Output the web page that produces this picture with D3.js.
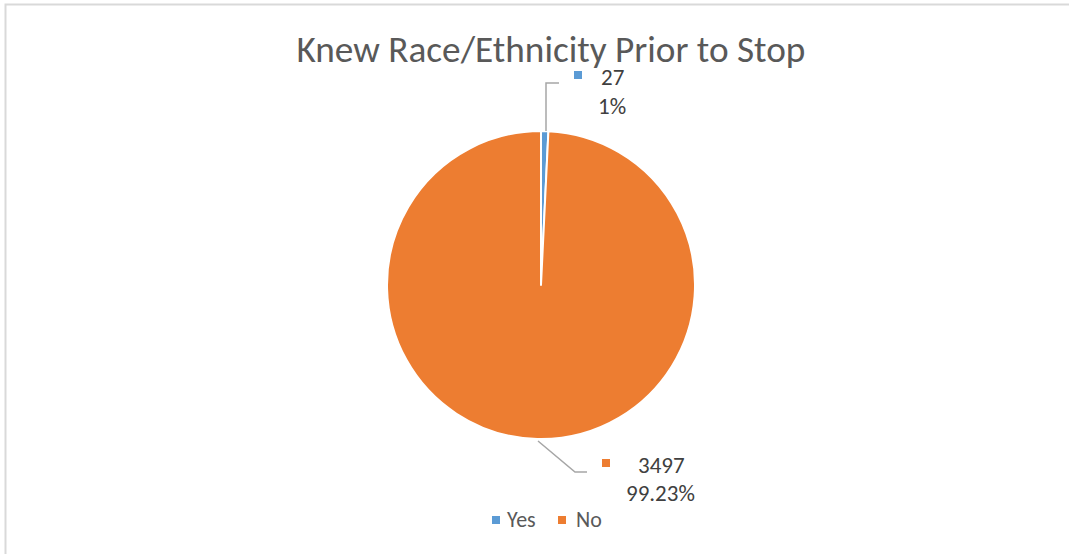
<!DOCTYPE html>
<html>
<head>
<meta charset="utf-8">
<script src="https://cdn.jsdelivr.net/npm/d3@7"></script>
<style>
  body { margin: 0; background: #fff; }
  svg { display: block; font-family: Carlito, "Open Sans", sans-serif; }
</style>
</head>
<body>
<div id="chart"></div>
<script>
// Data
const categories = ['Yes', 'No']
const counts = [27, 3497]
const percentLabels = ['1%', '99.23%']
const colors = ['#5B9BD5', '#ED7D31']

const title = 'Knew Race/Ethnicity Prior to Stop'

// Dimensions
let dimensions = {
  width: 1069,
  height: 554,
  cx: 541,
  cy: 285,
  radius: 154,
}

const svg = d3.select('#chart')
  .append('svg')
  .attr('width', dimensions.width)
  .attr('height', dimensions.height)

// chart border (top + left visible)
svg.append('rect')
  .attr('x', 5.5)
  .attr('y', 4.5)
  .attr('width', dimensions.width + 10)
  .attr('height', dimensions.height + 10)
  .attr('fill', 'none')
  .attr('stroke', '#d9d9d9')
  .attr('stroke-width', 2)

// title, sized to the reference width
const titleText = svg.append('text')
  .attr('x', 551)
  .attr('y', 62)
  .attr('text-anchor', 'middle')
  .attr('fill', '#595959')
  .attr('font-size', 32)
  .text(title)
const tw = titleText.node().getComputedTextLength()
titleText.attr('font-size', 32 * 509 / tw)

// pie
const data = categories.map((c, i) => ({ name: c, value: counts[i], pct: percentLabels[i], color: colors[i] }))

const pie = d3.pie()
  .sort(null)
  .value(d => d.value)

const arc = d3.arc()
  .innerRadius(0)
  .outerRadius(dimensions.radius)

const arcs = pie(data)

const g = svg.append('g')
  .attr('transform', `translate(${dimensions.cx}, ${dimensions.cy})`)

g.selectAll('path')
  .data(arcs)
  .join('path')
  .attr('d', arc)
  .attr('fill', d => d.data.color)
  .attr('stroke', '#fff')
  .attr('stroke-width', 2)
  .attr('stroke-linejoin', 'round')

// leader lines + data labels
const labelPos = [
  { line: [[546, 131], [546, 83], [559, 83]], marker: [574, 71], x1: 601, x2: 598, y1: 85, y2: 114 },
  { line: [[538, 441], [575, 472], [587, 472]], marker: [602, 459], x1: 638, x2: 626, y1: 473, y2: 501 },
]

arcs.forEach((a, i) => {
  const p = labelPos[i]
  svg.append('path')
    .attr('d', d3.line()(p.line))
    .attr('fill', 'none')
    .attr('stroke', '#a6a6a6')
    .attr('stroke-width', 1.5)

  svg.append('rect')
    .attr('x', p.marker[0])
    .attr('y', p.marker[1])
    .attr('width', 8)
    .attr('height', 8)
    .attr('fill', a.data.color)

  svg.append('text')
    .attr('x', p.x1)
    .attr('y', p.y1)
    .attr('fill', '#404040')
    .attr('font-size', 23)
    .text(a.data.value)

  svg.append('text')
    .attr('x', p.x2)
    .attr('y', p.y2)
    .attr('fill', '#404040')
    .attr('font-size', 23)
    .text(a.data.pct)
})

// legend
const legendX = [492, 558]
const legend = svg.append('g')
  .selectAll('g')
  .data(data)
  .join('g')
  .attr('transform', (d, i) => `translate(${legendX[i]}, 516)`)

legend.append('rect')
  .attr('width', 8)
  .attr('height', 8)
  .attr('fill', d => d.color)

legend.append('text')
  .attr('x', (d, i) => i === 0 ? 15 : 18)
  .attr('y', 11)
  .attr('fill', '#595959')
  .attr('font-size', 22)
  .text(d => d.name)
</script>
</body>
</html>
